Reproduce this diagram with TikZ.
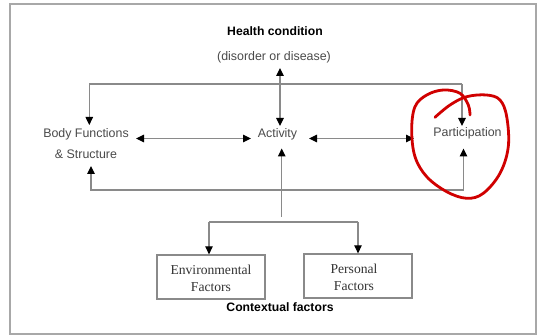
\documentclass[tikz,border=0pt]{standalone}
\usepackage{fontspec}
\setmainfont{Liberation Sans}
\newfontfamily\serifbox{Liberation Serif}
\usetikzlibrary{arrows.meta}
\definecolor{lncol}{HTML}{8A8A8A}
\definecolor{txt}{HTML}{4A4A4A}
\definecolor{frm}{HTML}{A8A8A8}
\definecolor{ink}{HTML}{D00000}
\definecolor{boxtxt}{HTML}{333333}
\begin{document}
\begin{tikzpicture}[x=1pt,y=-1pt,
 lbl/.style={inner sep=0pt, font=\fontsize{12.4}{21}\selectfont, text=txt},
 head/.style={inner sep=0pt, font=\fontsize{12.2}{14}\selectfont\bfseries, text=black},
 fbox/.style={draw=lncol, line width=1.3pt, minimum width=108pt, minimum height=44pt, inner sep=0pt},
 ftxt/.style={inner sep=0pt, align=center, font=\fontsize{13.6}{17}\selectfont\serifbox, text=boxtxt},
 conn/.style={draw=lncol, line width=1.2pt},
 tip/.style={-{Triangle[length=8pt,width=7.5pt,color=black]}},
 tips/.style={{Triangle[length=8pt,width=7.5pt,color=black]}-{Triangle[length=8pt,width=7.5pt,color=black]}},
 mark circle/.style={draw=ink, line width=2.8pt, line cap=round, line join=round}
]
\useasboundingbox (0,0) rectangle (538,336);
\fill[white] (0,0) rectangle (538,336);
\draw[frm, line width=1.6pt] (10,4) rectangle (536,334);

% texts
\node[head] (hc) at (275,31) {Health condition};
\node[lbl] (dis) at (274,57) {(disorder or disease)};
\node[lbl, align=center] (body) at (86,144) {Body Functions\\\& Structure};
\node[lbl] (act) at (277.5,134) {Activity};
\node[lbl] (part) at (467.5,133.5) {Participation};
\node[fbox] (env) at (211,277) {};
\node[ftxt] (envt) at (211,278.5) {Environmental\\Factors};
\node[fbox] (pers) at (358,276) {};
\node[ftxt] (perst) at (354,277.5) {Personal\\Factors};
\node[head] (ctx) at (280,307) {Contextual factors};

% coordinates
\coordinate (hcTip) at (280,68);
\coordinate (actTop) at (280,126);
\coordinate (topL) at (89.3,84);
\coordinate (topR) at (462,84);
\coordinate (bodyTop) at (89.3,125);
\coordinate (partTop) at (462,126);
\coordinate (bodyE) at (136,138.5);
\coordinate (actW) at (251,138.5);
\coordinate (actE) at (309,138.5);
\coordinate (partW) at (414,138.5);
\coordinate (botL) at (91,190);
\coordinate (botR) at (463.5,190);
\coordinate (bodyBot) at (91,166);
\coordinate (partBot) at (463.5,148.5);
\coordinate (actBot) at (281.7,148.5);
\coordinate (stem) at (281.7,217);
\coordinate (ctxL) at (209,222);
\coordinate (ctxR) at (358,222);

% connectors
\draw[conn,tips] (hcTip) -- (actTop);
\draw[conn,tip] (topR) -- (topL) -- (bodyTop);
\draw[conn,tip] (topR) -- (partTop);
\draw[conn,tips] (bodyE) -- (actW);
\draw[conn,tips] (actE) -- (partW);
\draw[conn,tip] (botR) -- (botL) -- (bodyBot);
\draw[conn,tip] (botR) -- (partBot);
\draw[conn,tip] (stem) -- (actBot);
\draw[conn] (ctxL) -- (ctxR);
\draw[conn,tip] (ctxL) -- (env.north -| ctxL);
\draw[conn,tip] (ctxR) -- (pers.north -| ctxR);

% red hand-drawn loop
\draw[mark circle] plot[smooth, tension=0.6] coordinates {
 (435,117.3) (450,105) (466.7,96.7) (486.7,95) (500,100) (506.7,116.7)
 (508.3,146.7) (500,173.3) (483.3,193.3) (466.7,198.3) (446.7,191.7)
 (426.7,176.7) (415,156.7) (411.7,130) (415,106.7) (426.7,95)
 (443.3,90) (460,93.3) (468.3,105) (470,115)};
\end{tikzpicture}
\end{document}
